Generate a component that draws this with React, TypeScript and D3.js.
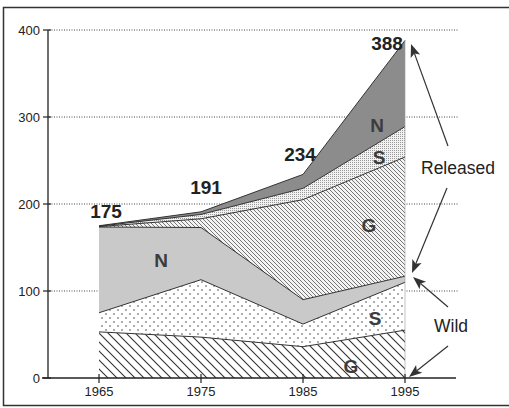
import React from "react";
import * as d3 from "d3";

const years = [1965, 1975, 1985, 1995];
const wildG = [53, 47, 36, 55];
const wildS = [22, 66, 26, 55];
const wildN = [98.5, 60, 28, 7];
const relG = [0.5, 10, 115, 137];
const relS = [0.5, 5, 13, 35];
const relN = [0.5, 3, 16, 99];
const totals = [175, 191, 234, 388];
const yTicks = [0, 100, 200, 300, 400];
const xTicks = [1965, 1975, 1985, 1995];

const keys = ["wildG", "wildS", "wildN", "relG", "relS", "relN"];
const fills: Record<string, string> = {
  wildG: "url(#hatchWide)",
  wildS: "url(#dotsSparse)",
  wildN: "#c9c9c9",
  relG: "url(#hatchFine)",
  relS: "url(#stipple)",
  relN: "#8c8c8c",
};

const FONT = "'Liberation Sans', Arial, Helvetica, sans-serif";

function Arrow({ x1, y1, x2, y2 }: { x1: number; y1: number; x2: number; y2: number }) {
  const dx = x2 - x1, dy = y2 - y1;
  const len = Math.hypot(dx, dy);
  const ux = dx / len, uy = dy / len;
  const L = 13, W = 5;
  const bx = x2 - ux * L, by = y2 - uy * L;
  const pts = [
    [x2, y2],
    [bx - uy * W, by + ux * W],
    [bx + ux * 3, by + uy * 3],
    [bx + uy * W, by - ux * W],
  ];
  return (
    <g>
      <line x1={x1} y1={y1} x2={bx + ux * 3} y2={by + uy * 3} stroke="#333" strokeWidth={1.2} />
      <polygon points={pts.map((p) => p.join(",")).join(" ")} fill="#333" />
    </g>
  );
}

export default function App() {
  const x = d3.scaleLinear().domain([1960, 2000]).range([48, 456]);
  const y = d3.scaleLinear().domain([0, 400]).range([378, 30]);

  const table = years.map((yr, i) => ({
    year: yr,
    wildG: wildG[i],
    wildS: wildS[i],
    wildN: wildN[i],
    relG: relG[i],
    relS: relS[i],
    relN: relN[i],
  }));
  const series = d3.stack<any>().keys(keys)(table);
  const area = d3
    .area<any>()
    .x((d) => x(d.data.year))
    .y0((d) => y(d[0]))
    .y1((d) => y(d[1]));
  const topLine = d3
    .line<any>()
    .x((d) => x(d.data.year))
    .y((d) => y(d[1]));

  const labelStyle = { fontFamily: FONT, fontWeight: 700, fontSize: 19, fill: "#3c3c3c" } as const;
  const numStyle = { fontFamily: FONT, fontWeight: 700, fontSize: 19, fill: "#222" } as const;
  const tickStyle = { fontFamily: FONT, fontSize: 13, fill: "#222" } as const;
  const numPos = [
    { dx: 7, dy: -8 },
    { dx: 5, dy: -18 },
    { dx: -3, dy: -13 },
    { dx: -18, dy: 10 },
  ];

  return (
    <svg
      width={509}
      height={408}
      style={{ position: "absolute", left: 0, top: 0, background: "#fff" }}
    >
      <defs>
        <pattern id="hatchWide" width={9} height={9} patternUnits="userSpaceOnUse">
          <rect width={9} height={9} fill="#fff" />
          <path d="M0,0 L9,9 M-1,8 L1,10 M8,-1 L10,1" stroke="#333" strokeWidth={1.1} />
        </pattern>
        <pattern id="hatchFine" width={4} height={4} patternUnits="userSpaceOnUse">
          <rect width={4} height={4} fill="#f4f4f4" />
          <path d="M0,0 L4,4 M-1,3 L1,5 M3,-1 L5,1" stroke="#555" strokeWidth={0.8} />
        </pattern>
        <pattern id="dotsSparse" width={8} height={8} patternUnits="userSpaceOnUse">
          <rect width={8} height={8} fill="#fff" />
          <circle cx={2} cy={2} r={0.75} fill="#333" />
          <circle cx={6} cy={6} r={0.75} fill="#333" />
        </pattern>
        <pattern id="stipple" width={2} height={2} patternUnits="userSpaceOnUse">
          <rect width={2} height={2} fill="#f2f2f2" />
          <rect width={1} height={1} fill="#999" />
        </pattern>
      </defs>

      <rect x={3.5} y={7.5} width={520} height={398} fill="none" stroke="#333" strokeWidth={1.5} />

      {yTicks
        .filter((t) => t > 0)
        .map((t) => (
          <line
            key={"g" + t}
            x1={x(1960) + 1}
            x2={458}
            y1={y(t)}
            y2={y(t)}
            stroke="#444"
            strokeWidth={1}
            strokeDasharray="1,1.5"
          />
        ))}

      {series.map((s) => (
        <path key={s.key} d={area(s) || ""} fill={fills[s.key]} stroke="none" />
      ))}
      {series.map((s) => (
        <path key={"l" + s.key} d={topLine(s) || ""} fill="none" stroke="#333" strokeWidth={1} />
      ))}
      <line
        x1={x(1995)}
        x2={x(1995)}
        y1={y(0)}
        y2={y(totals[3])}
        stroke="#999"
        strokeWidth={0.6}
      />

      {/* axes */}
      <line x1={x(1960)} x2={x(1960)} y1={y(400)} y2={y(0)} stroke="#222" strokeWidth={1.3} />
      <line x1={x(1960) - 6} x2={x(2000)} y1={y(0)} y2={y(0)} stroke="#222" strokeWidth={1.3} />
      {yTicks.map((t) => (
        <g key={"yt" + t}>
          <line x1={x(1960) - 5} x2={x(1960) + 3} y1={y(t)} y2={y(t)} stroke="#222" strokeWidth={1.2} />
          <text x={x(1960) - 8} y={y(t)} dy="0.35em" textAnchor="end" style={tickStyle}>
            {t}
          </text>
        </g>
      ))}
      {xTicks.map((t) => (
        <g key={"xt" + t}>
          <line x1={x(t)} x2={x(t)} y1={y(0) - 4} y2={y(0) + 5} stroke="#222" strokeWidth={1.2} />
          <text x={x(t)} y={y(0) + 18} textAnchor="middle" style={tickStyle}>
            {t}
          </text>
        </g>
      ))}

      {/* totals */}
      {totals.map((v, i) => (
        <text
          key={"tot" + i}
          x={x(years[i]) + numPos[i].dx}
          y={y(v) + numPos[i].dy}
          textAnchor="middle"
          style={numStyle}
        >
          {v}
        </text>
      ))}

      {/* series letters */}
      <text x={161} y={267} textAnchor="middle" style={labelStyle}>N</text>
      <text x={351} y={373} textAnchor="middle" style={labelStyle}>G</text>
      <text x={375} y={325} textAnchor="middle" style={labelStyle}>S</text>
      <text x={369} y={232} textAnchor="middle" style={labelStyle}>G</text>
      <text x={379} y={164} textAnchor="middle" style={labelStyle}>S</text>
      <text x={377} y={132} textAnchor="middle" style={labelStyle}>N</text>

      {/* annotations */}
      <text x={421} y={174} style={{ fontFamily: FONT, fontSize: 17.5, fill: "#222" }}>Released</text>
      <text x={434} y={332} style={{ fontFamily: FONT, fontSize: 17.5, fill: "#222" }}>Wild</text>
      <Arrow x1={448} y1={146} x2={411} y2={44} />
      <Arrow x1={447} y1={188} x2={412} y2={273} />
      <Arrow x1={448} y1={307} x2={413} y2={277} />
      <Arrow x1={448} y1={346} x2={409} y2={377} />
    </svg>
  );
}
